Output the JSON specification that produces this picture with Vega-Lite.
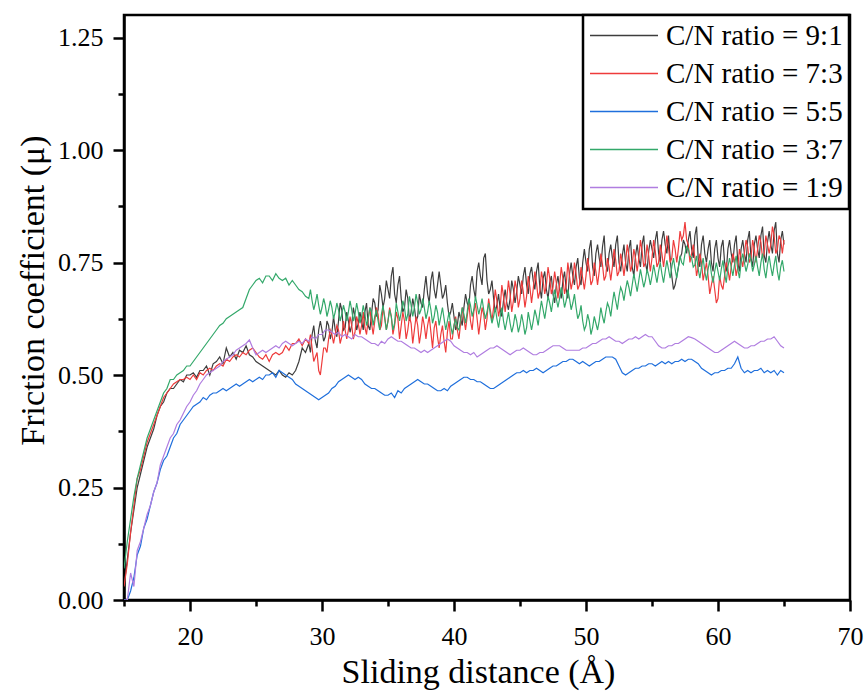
{
"$schema":"https://vega.github.io/schema/vega-lite/v6.json",
"width":726,"height":585,
"autosize":{"type":"none"},
"padding":{"left":124,"top":15,"right":15,"bottom":97},
"background":"white",
"config":{"view":{"stroke":"black","strokeWidth":2.5},"font":"Liberation Serif","axis":{"labelFont":"Liberation Serif","titleFont":"Liberation Serif"},"legend":{"strokeWidth":2.5,"labelFont":"Liberation Serif"}},
"data":{"values":[
{"x":15,"9:1":0.03,"7:3":0.03,"5:5":0,"3:7":0.07,"1:9":0},
{"x":15.25,"9:1":0.09,"7:3":0.08,"5:5":0,"3:7":0.13,"1:9":0},
{"x":15.5,"9:1":0.15,"7:3":0.15,"5:5":0.02,"3:7":0.18,"1:9":0.06},
{"x":15.75,"9:1":0.2,"7:3":0.21,"5:5":0.05,"3:7":0.23,"1:9":0.03},
{"x":16,"9:1":0.25,"7:3":0.27,"5:5":0.1,"3:7":0.27,"1:9":0.11},
{"x":16.25,"9:1":0.28,"7:3":0.29,"5:5":0.12,"3:7":0.3,"1:9":0.13},
{"x":16.5,"9:1":0.31,"7:3":0.32,"5:5":0.16,"3:7":0.33,"1:9":0.16},
{"x":16.75,"9:1":0.34,"7:3":0.35,"5:5":0.18,"3:7":0.36,"1:9":0.19},
{"x":17,"9:1":0.36,"7:3":0.37,"5:5":0.21,"3:7":0.38,"1:9":0.21},
{"x":17.25,"9:1":0.38,"7:3":0.39,"5:5":0.24,"3:7":0.4,"1:9":0.24},
{"x":17.5,"9:1":0.41,"7:3":0.41,"5:5":0.26,"3:7":0.42,"1:9":0.26},
{"x":17.75,"9:1":0.43,"7:3":0.43,"5:5":0.29,"3:7":0.44,"1:9":0.3},
{"x":18,"9:1":0.44,"7:3":0.45,"5:5":0.31,"3:7":0.46,"1:9":0.32},
{"x":18.25,"9:1":0.46,"7:3":0.46,"5:5":0.32,"3:7":0.47,"1:9":0.34},
{"x":18.5,"9:1":0.47,"7:3":0.47,"5:5":0.34,"3:7":0.49,"1:9":0.36},
{"x":18.75,"9:1":0.47,"7:3":0.48,"5:5":0.36,"3:7":0.49,"1:9":0.37},
{"x":19,"9:1":0.48,"7:3":0.485,"5:5":0.37,"3:7":0.5,"1:9":0.39},
{"x":19.25,"9:1":0.49,"7:3":0.49,"5:5":0.39,"3:7":0.505,"1:9":0.4},
{"x":19.5,"9:1":0.485,"7:3":0.49,"5:5":0.4,"3:7":0.51,"1:9":0.415},
{"x":19.75,"9:1":0.5,"7:3":0.495,"5:5":0.41,"3:7":0.52,"1:9":0.43},
{"x":20,"9:1":0.5,"7:3":0.49,"5:5":0.42,"3:7":0.52,"1:9":0.44},
{"x":20.25,"9:1":0.505,"7:3":0.5,"5:5":0.43,"3:7":0.53,"1:9":0.455},
{"x":20.5,"9:1":0.495,"7:3":0.49,"5:5":0.435,"3:7":0.54,"1:9":0.465},
{"x":20.75,"9:1":0.51,"7:3":0.505,"5:5":0.44,"3:7":0.55,"1:9":0.48},
{"x":21,"9:1":0.51,"7:3":0.5,"5:5":0.45,"3:7":0.56,"1:9":0.49},
{"x":21.25,"9:1":0.52,"7:3":0.51,"5:5":0.445,"3:7":0.57,"1:9":0.5},
{"x":21.5,"9:1":0.5,"7:3":0.515,"5:5":0.455,"3:7":0.58,"1:9":0.505},
{"x":21.75,"9:1":0.525,"7:3":0.51,"5:5":0.46,"3:7":0.59,"1:9":0.51},
{"x":22,"9:1":0.53,"7:3":0.52,"5:5":0.46,"3:7":0.6,"1:9":0.515},
{"x":22.25,"9:1":0.54,"7:3":0.525,"5:5":0.465,"3:7":0.61,"1:9":0.52},
{"x":22.5,"9:1":0.525,"7:3":0.52,"5:5":0.47,"3:7":0.615,"1:9":0.53},
{"x":22.75,"9:1":0.56,"7:3":0.535,"5:5":0.465,"3:7":0.625,"1:9":0.535},
{"x":23,"9:1":0.54,"7:3":0.53,"5:5":0.47,"3:7":0.63,"1:9":0.54},
{"x":23.25,"9:1":0.55,"7:3":0.54,"5:5":0.475,"3:7":0.635,"1:9":0.545},
{"x":23.5,"9:1":0.535,"7:3":0.545,"5:5":0.48,"3:7":0.64,"1:9":0.555},
{"x":23.75,"9:1":0.555,"7:3":0.54,"5:5":0.475,"3:7":0.645,"1:9":0.56},
{"x":24,"9:1":0.55,"7:3":0.55,"5:5":0.48,"3:7":0.65,"1:9":0.565},
{"x":24.25,"9:1":0.565,"7:3":0.545,"5:5":0.485,"3:7":0.67,"1:9":0.57},
{"x":24.5,"9:1":0.545,"7:3":0.555,"5:5":0.49,"3:7":0.69,"1:9":0.578},
{"x":24.75,"9:1":0.54,"7:3":0.56,"5:5":0.485,"3:7":0.7,"1:9":0.56},
{"x":25,"9:1":0.53,"7:3":0.55,"5:5":0.49,"3:7":0.71,"1:9":0.545},
{"x":25.25,"9:1":0.525,"7:3":0.54,"5:5":0.495,"3:7":0.715,"1:9":0.55},
{"x":25.5,"9:1":0.52,"7:3":0.535,"5:5":0.49,"3:7":0.705,"1:9":0.555},
{"x":25.75,"9:1":0.515,"7:3":0.545,"5:5":0.5,"3:7":0.72,"1:9":0.55},
{"x":26,"9:1":0.51,"7:3":0.53,"5:5":0.5,"3:7":0.72,"1:9":0.555},
{"x":26.25,"9:1":0.505,"7:3":0.545,"5:5":0.505,"3:7":0.71,"1:9":0.56},
{"x":26.5,"9:1":0.5,"7:3":0.55,"5:5":0.495,"3:7":0.725,"1:9":0.565},
{"x":26.75,"9:1":0.51,"7:3":0.545,"5:5":0.51,"3:7":0.715,"1:9":0.56},
{"x":27,"9:1":0.5,"7:3":0.55,"5:5":0.505,"3:7":0.71,"1:9":0.57},
{"x":27.25,"9:1":0.495,"7:3":0.565,"5:5":0.5,"3:7":0.715,"1:9":0.575},
{"x":27.5,"9:1":0.505,"7:3":0.555,"5:5":0.495,"3:7":0.7,"1:9":0.57},
{"x":27.75,"9:1":0.5,"7:3":0.57,"5:5":0.49,"3:7":0.71,"1:9":0.565},
{"x":28,"9:1":0.51,"7:3":0.57,"5:5":0.48,"3:7":0.7,"1:9":0.57},
{"x":28.25,"9:1":0.53,"7:3":0.58,"5:5":0.475,"3:7":0.69,"1:9":0.575},
{"x":28.5,"9:1":0.56,"7:3":0.565,"5:5":0.47,"3:7":0.685,"1:9":0.57},
{"x":28.75,"9:1":0.55,"7:3":0.58,"5:5":0.465,"3:7":0.675,"1:9":0.58},
{"x":29,"9:1":0.57,"7:3":0.57,"5:5":0.46,"3:7":0.67,"1:9":0.575},
{"x":29.25,"9:1":0.59,"7:3":0.56,"5:5":0.455,"3:7":0.665,"1:9":0.585},
{"x":29.5,"9:1":0.575,"7:3":0.54,"5:5":0.45,"3:7":0.66,"1:9":0.58},
{"x":29.75,"9:1":0.6,"7:3":0.51,"5:5":0.445,"3:7":0.655,"1:9":0.59},
{"x":30,"9:1":0.6,"7:3":0.53,"5:5":0.45,"3:7":0.65,"1:9":0.59},
{"x":30.25,"9:1":0.585,"7:3":0.56,"5:5":0.455,"3:7":0.655,"1:9":0.6},
{"x":30.5,"9:1":0.61,"7:3":0.58,"5:5":0.46,"3:7":0.645,"1:9":0.6},
{"x":30.75,"9:1":0.595,"7:3":0.59,"5:5":0.47,"3:7":0.65,"1:9":0.595},
{"x":31,"9:1":0.6,"7:3":0.59,"5:5":0.475,"3:7":0.64,"1:9":0.59},
{"x":31.25,"9:1":0.62,"7:3":0.6,"5:5":0.485,"3:7":0.645,"1:9":0.595},
{"x":31.5,"9:1":0.645,"7:3":0.585,"5:5":0.49,"3:7":0.635,"1:9":0.585},
{"x":31.75,"9:1":0.605,"7:3":0.6,"5:5":0.495,"3:7":0.64,"1:9":0.59},
{"x":32,"9:1":0.62,"7:3":0.6,"5:5":0.5,"3:7":0.64,"1:9":0.585},
{"x":32.25,"9:1":0.61,"7:3":0.61,"5:5":0.495,"3:7":0.645,"1:9":0.58},
{"x":32.5,"9:1":0.63,"7:3":0.595,"5:5":0.49,"3:7":0.635,"1:9":0.59},
{"x":32.75,"9:1":0.615,"7:3":0.615,"5:5":0.495,"3:7":0.64,"1:9":0.585},
{"x":33,"9:1":0.62,"7:3":0.61,"5:5":0.49,"3:7":0.63,"1:9":0.585},
{"x":33.25,"9:1":0.64,"7:3":0.605,"5:5":0.48,"3:7":0.635,"1:9":0.58},
{"x":33.5,"9:1":0.61,"7:3":0.625,"5:5":0.475,"3:7":0.625,"1:9":0.575},
{"x":33.75,"9:1":0.635,"7:3":0.615,"5:5":0.47,"3:7":0.64,"1:9":0.57},
{"x":34,"9:1":0.66,"7:3":0.62,"5:5":0.47,"3:7":0.63,"1:9":0.57},
{"x":34.25,"9:1":0.645,"7:3":0.635,"5:5":0.465,"3:7":0.62,"1:9":0.565},
{"x":34.5,"9:1":0.68,"7:3":0.61,"5:5":0.46,"3:7":0.635,"1:9":0.575},
{"x":34.75,"9:1":0.67,"7:3":0.63,"5:5":0.455,"3:7":0.625,"1:9":0.57},
{"x":35,"9:1":0.69,"7:3":0.62,"5:5":0.455,"3:7":0.62,"1:9":0.58},
{"x":35.25,"9:1":0.72,"7:3":0.63,"5:5":0.46,"3:7":0.63,"1:9":0.585},
{"x":35.5,"9:1":0.68,"7:3":0.61,"5:5":0.45,"3:7":0.615,"1:9":0.58},
{"x":35.75,"9:1":0.7,"7:3":0.625,"5:5":0.465,"3:7":0.64,"1:9":0.575},
{"x":36,"9:1":0.67,"7:3":0.61,"5:5":0.46,"3:7":0.64,"1:9":0.575},
{"x":36.25,"9:1":0.65,"7:3":0.62,"5:5":0.47,"3:7":0.65,"1:9":0.57},
{"x":36.5,"9:1":0.67,"7:3":0.6,"5:5":0.475,"3:7":0.635,"1:9":0.565},
{"x":36.75,"9:1":0.64,"7:3":0.615,"5:5":0.48,"3:7":0.655,"1:9":0.56},
{"x":37,"9:1":0.65,"7:3":0.6,"5:5":0.485,"3:7":0.65,"1:9":0.56},
{"x":37.25,"9:1":0.63,"7:3":0.61,"5:5":0.49,"3:7":0.66,"1:9":0.555},
{"x":37.5,"9:1":0.66,"7:3":0.595,"5:5":0.485,"3:7":0.645,"1:9":0.55},
{"x":37.75,"9:1":0.69,"7:3":0.61,"5:5":0.48,"3:7":0.65,"1:9":0.555},
{"x":38,"9:1":0.68,"7:3":0.61,"5:5":0.48,"3:7":0.64,"1:9":0.55},
{"x":38.25,"9:1":0.71,"7:3":0.595,"5:5":0.475,"3:7":0.645,"1:9":0.555},
{"x":38.5,"9:1":0.69,"7:3":0.605,"5:5":0.47,"3:7":0.63,"1:9":0.56},
{"x":38.75,"9:1":0.7,"7:3":0.585,"5:5":0.465,"3:7":0.64,"1:9":0.565},
{"x":39,"9:1":0.7,"7:3":0.59,"5:5":0.465,"3:7":0.63,"1:9":0.57},
{"x":39.25,"9:1":0.68,"7:3":0.575,"5:5":0.47,"3:7":0.625,"1:9":0.575},
{"x":39.5,"9:1":0.66,"7:3":0.595,"5:5":0.465,"3:7":0.62,"1:9":0.58},
{"x":39.75,"9:1":0.64,"7:3":0.58,"5:5":0.475,"3:7":0.61,"1:9":0.575},
{"x":40,"9:1":0.63,"7:3":0.61,"5:5":0.48,"3:7":0.61,"1:9":0.565},
{"x":40.25,"9:1":0.61,"7:3":0.6,"5:5":0.485,"3:7":0.605,"1:9":0.56},
{"x":40.5,"9:1":0.625,"7:3":0.615,"5:5":0.49,"3:7":0.625,"1:9":0.555},
{"x":40.75,"9:1":0.65,"7:3":0.625,"5:5":0.495,"3:7":0.635,"1:9":0.55},
{"x":41,"9:1":0.66,"7:3":0.63,"5:5":0.495,"3:7":0.64,"1:9":0.55},
{"x":41.25,"9:1":0.7,"7:3":0.62,"5:5":0.49,"3:7":0.655,"1:9":0.545},
{"x":41.5,"9:1":0.69,"7:3":0.64,"5:5":0.49,"3:7":0.645,"1:9":0.55},
{"x":41.75,"9:1":0.73,"7:3":0.625,"5:5":0.485,"3:7":0.655,"1:9":0.54},
{"x":42,"9:1":0.72,"7:3":0.62,"5:5":0.485,"3:7":0.65,"1:9":0.545},
{"x":42.25,"9:1":0.76,"7:3":0.635,"5:5":0.48,"3:7":0.645,"1:9":0.55},
{"x":42.5,"9:1":0.71,"7:3":0.625,"5:5":0.475,"3:7":0.64,"1:9":0.555},
{"x":42.75,"9:1":0.69,"7:3":0.645,"5:5":0.47,"3:7":0.635,"1:9":0.56},
{"x":43,"9:1":0.67,"7:3":0.65,"5:5":0.47,"3:7":0.63,"1:9":0.56},
{"x":43.25,"9:1":0.655,"7:3":0.665,"5:5":0.475,"3:7":0.625,"1:9":0.565},
{"x":43.5,"9:1":0.645,"7:3":0.65,"5:5":0.48,"3:7":0.63,"1:9":0.56},
{"x":43.75,"9:1":0.665,"7:3":0.675,"5:5":0.485,"3:7":0.62,"1:9":0.555},
{"x":44,"9:1":0.66,"7:3":0.67,"5:5":0.49,"3:7":0.62,"1:9":0.55},
{"x":44.25,"9:1":0.67,"7:3":0.68,"5:5":0.495,"3:7":0.615,"1:9":0.545},
{"x":44.5,"9:1":0.69,"7:3":0.665,"5:5":0.5,"3:7":0.61,"1:9":0.55},
{"x":44.75,"9:1":0.685,"7:3":0.69,"5:5":0.505,"3:7":0.62,"1:9":0.555},
{"x":45,"9:1":0.7,"7:3":0.67,"5:5":0.505,"3:7":0.61,"1:9":0.555},
{"x":45.25,"9:1":0.72,"7:3":0.685,"5:5":0.51,"3:7":0.615,"1:9":0.56},
{"x":45.5,"9:1":0.7,"7:3":0.675,"5:5":0.505,"3:7":0.605,"1:9":0.555},
{"x":45.75,"9:1":0.725,"7:3":0.695,"5:5":0.51,"3:7":0.62,"1:9":0.55},
{"x":46,"9:1":0.71,"7:3":0.69,"5:5":0.51,"3:7":0.62,"1:9":0.545},
{"x":46.25,"9:1":0.73,"7:3":0.705,"5:5":0.515,"3:7":0.63,"1:9":0.545},
{"x":46.5,"9:1":0.695,"7:3":0.685,"5:5":0.51,"3:7":0.64,"1:9":0.55},
{"x":46.75,"9:1":0.715,"7:3":0.71,"5:5":0.505,"3:7":0.645,"1:9":0.55},
{"x":47,"9:1":0.69,"7:3":0.7,"5:5":0.51,"3:7":0.65,"1:9":0.555},
{"x":47.25,"9:1":0.705,"7:3":0.715,"5:5":0.515,"3:7":0.66,"1:9":0.56},
{"x":47.5,"9:1":0.68,"7:3":0.695,"5:5":0.52,"3:7":0.665,"1:9":0.565},
{"x":47.75,"9:1":0.7,"7:3":0.705,"5:5":0.52,"3:7":0.67,"1:9":0.565},
{"x":48,"9:1":0.69,"7:3":0.7,"5:5":0.525,"3:7":0.67,"1:9":0.565},
{"x":48.25,"9:1":0.71,"7:3":0.715,"5:5":0.53,"3:7":0.675,"1:9":0.56},
{"x":48.5,"9:1":0.69,"7:3":0.7,"5:5":0.53,"3:7":0.665,"1:9":0.555},
{"x":48.75,"9:1":0.725,"7:3":0.72,"5:5":0.535,"3:7":0.67,"1:9":0.555},
{"x":49,"9:1":0.72,"7:3":0.71,"5:5":0.535,"3:7":0.66,"1:9":0.555},
{"x":49.25,"9:1":0.74,"7:3":0.725,"5:5":0.53,"3:7":0.65,"1:9":0.555},
{"x":49.5,"9:1":0.715,"7:3":0.7,"5:5":0.525,"3:7":0.635,"1:9":0.555},
{"x":49.75,"9:1":0.75,"7:3":0.715,"5:5":0.53,"3:7":0.62,"1:9":0.56},
{"x":50,"9:1":0.75,"7:3":0.72,"5:5":0.525,"3:7":0.61,"1:9":0.56},
{"x":50.25,"9:1":0.78,"7:3":0.735,"5:5":0.52,"3:7":0.62,"1:9":0.565},
{"x":50.5,"9:1":0.74,"7:3":0.71,"5:5":0.525,"3:7":0.605,"1:9":0.57},
{"x":50.75,"9:1":0.77,"7:3":0.73,"5:5":0.53,"3:7":0.615,"1:9":0.57},
{"x":51,"9:1":0.76,"7:3":0.73,"5:5":0.53,"3:7":0.62,"1:9":0.575},
{"x":51.25,"9:1":0.785,"7:3":0.745,"5:5":0.535,"3:7":0.63,"1:9":0.58},
{"x":51.5,"9:1":0.745,"7:3":0.72,"5:5":0.54,"3:7":0.64,"1:9":0.58},
{"x":51.75,"9:1":0.77,"7:3":0.74,"5:5":0.54,"3:7":0.65,"1:9":0.585},
{"x":52,"9:1":0.76,"7:3":0.74,"5:5":0.54,"3:7":0.66,"1:9":0.58},
{"x":52.25,"9:1":0.79,"7:3":0.755,"5:5":0.535,"3:7":0.665,"1:9":0.575},
{"x":52.5,"9:1":0.75,"7:3":0.73,"5:5":0.52,"3:7":0.675,"1:9":0.575},
{"x":52.75,"9:1":0.765,"7:3":0.75,"5:5":0.505,"3:7":0.685,"1:9":0.57},
{"x":53,"9:1":0.75,"7:3":0.75,"5:5":0.5,"3:7":0.69,"1:9":0.575},
{"x":53.25,"9:1":0.78,"7:3":0.765,"5:5":0.505,"3:7":0.695,"1:9":0.58},
{"x":53.5,"9:1":0.74,"7:3":0.745,"5:5":0.51,"3:7":0.7,"1:9":0.58},
{"x":53.75,"9:1":0.765,"7:3":0.76,"5:5":0.515,"3:7":0.705,"1:9":0.585},
{"x":54,"9:1":0.76,"7:3":0.76,"5:5":0.515,"3:7":0.71,"1:9":0.58},
{"x":54.25,"9:1":0.79,"7:3":0.775,"5:5":0.52,"3:7":0.715,"1:9":0.585},
{"x":54.5,"9:1":0.75,"7:3":0.75,"5:5":0.52,"3:7":0.71,"1:9":0.59},
{"x":54.75,"9:1":0.775,"7:3":0.765,"5:5":0.525,"3:7":0.72,"1:9":0.585},
{"x":55,"9:1":0.78,"7:3":0.76,"5:5":0.525,"3:7":0.72,"1:9":0.585},
{"x":55.25,"9:1":0.8,"7:3":0.775,"5:5":0.52,"3:7":0.725,"1:9":0.575},
{"x":55.5,"9:1":0.77,"7:3":0.75,"5:5":0.525,"3:7":0.73,"1:9":0.565},
{"x":55.75,"9:1":0.8,"7:3":0.77,"5:5":0.53,"3:7":0.725,"1:9":0.56},
{"x":56,"9:1":0.79,"7:3":0.77,"5:5":0.525,"3:7":0.73,"1:9":0.56},
{"x":56.25,"9:1":0.81,"7:3":0.785,"5:5":0.53,"3:7":0.735,"1:9":0.565},
{"x":56.5,"9:1":0.72,"7:3":0.76,"5:5":0.525,"3:7":0.74,"1:9":0.565},
{"x":56.75,"9:1":0.7,"7:3":0.78,"5:5":0.53,"3:7":0.735,"1:9":0.57},
{"x":57,"9:1":0.74,"7:3":0.78,"5:5":0.53,"3:7":0.74,"1:9":0.57},
{"x":57.25,"9:1":0.77,"7:3":0.8,"5:5":0.535,"3:7":0.75,"1:9":0.575},
{"x":57.5,"9:1":0.79,"7:3":0.84,"5:5":0.53,"3:7":0.77,"1:9":0.58},
{"x":57.75,"9:1":0.8,"7:3":0.79,"5:5":0.535,"3:7":0.78,"1:9":0.585},
{"x":58,"9:1":0.78,"7:3":0.77,"5:5":0.535,"3:7":0.76,"1:9":0.583},
{"x":58.25,"9:1":0.81,"7:3":0.76,"5:5":0.53,"3:7":0.745,"1:9":0.58},
{"x":58.5,"9:1":0.76,"7:3":0.74,"5:5":0.525,"3:7":0.735,"1:9":0.575},
{"x":58.75,"9:1":0.79,"7:3":0.75,"5:5":0.515,"3:7":0.74,"1:9":0.57},
{"x":59,"9:1":0.77,"7:3":0.73,"5:5":0.51,"3:7":0.73,"1:9":0.565},
{"x":59.25,"9:1":0.78,"7:3":0.72,"5:5":0.505,"3:7":0.735,"1:9":0.56},
{"x":59.5,"9:1":0.75,"7:3":0.7,"5:5":0.5,"3:7":0.725,"1:9":0.555},
{"x":59.75,"9:1":0.78,"7:3":0.69,"5:5":0.505,"3:7":0.73,"1:9":0.55},
{"x":60,"9:1":0.76,"7:3":0.67,"5:5":0.505,"3:7":0.73,"1:9":0.55},
{"x":60.25,"9:1":0.785,"7:3":0.7,"5:5":0.51,"3:7":0.735,"1:9":0.555},
{"x":60.5,"9:1":0.75,"7:3":0.72,"5:5":0.51,"3:7":0.725,"1:9":0.56},
{"x":60.75,"9:1":0.78,"7:3":0.735,"5:5":0.515,"3:7":0.74,"1:9":0.565},
{"x":61,"9:1":0.77,"7:3":0.74,"5:5":0.515,"3:7":0.74,"1:9":0.57},
{"x":61.25,"9:1":0.79,"7:3":0.755,"5:5":0.525,"3:7":0.745,"1:9":0.575},
{"x":61.5,"9:1":0.75,"7:3":0.74,"5:5":0.54,"3:7":0.735,"1:9":0.57},
{"x":61.75,"9:1":0.78,"7:3":0.76,"5:5":0.515,"3:7":0.75,"1:9":0.565},
{"x":62,"9:1":0.77,"7:3":0.77,"5:5":0.505,"3:7":0.75,"1:9":0.56},
{"x":62.25,"9:1":0.8,"7:3":0.785,"5:5":0.51,"3:7":0.745,"1:9":0.56},
{"x":62.5,"9:1":0.76,"7:3":0.76,"5:5":0.505,"3:7":0.755,"1:9":0.565},
{"x":62.75,"9:1":0.79,"7:3":0.78,"5:5":0.51,"3:7":0.745,"1:9":0.565},
{"x":63,"9:1":0.78,"7:3":0.78,"5:5":0.51,"3:7":0.74,"1:9":0.57},
{"x":63.25,"9:1":0.81,"7:3":0.795,"5:5":0.515,"3:7":0.75,"1:9":0.575},
{"x":63.5,"9:1":0.765,"7:3":0.77,"5:5":0.505,"3:7":0.735,"1:9":0.575},
{"x":63.75,"9:1":0.795,"7:3":0.79,"5:5":0.51,"3:7":0.745,"1:9":0.58},
{"x":64,"9:1":0.79,"7:3":0.79,"5:5":0.505,"3:7":0.74,"1:9":0.58},
{"x":64.25,"9:1":0.82,"7:3":0.81,"5:5":0.51,"3:7":0.745,"1:9":0.585},
{"x":64.5,"9:1":0.77,"7:3":0.78,"5:5":0.5,"3:7":0.73,"1:9":0.575},
{"x":64.75,"9:1":0.8,"7:3":0.8,"5:5":0.51,"3:7":0.74,"1:9":0.565},
{"x":65,"9:1":0.79,"7:3":0.8,"5:5":0.505,"3:7":0.73,"1:9":0.56},
{"x":29.125,"9:1":0.55,"7:3":0.59,"3:7":0.69},
{"x":29.375,"9:1":0.61,"7:3":0.53,"3:7":0.645},
{"x":29.625,"9:1":0.56,"7:3":0.55,"3:7":0.68},
{"x":29.875,"9:1":0.62,"7:3":0.5,"3:7":0.635},
{"x":30.125,"9:1":0.575,"7:3":0.56,"3:7":0.67},
{"x":30.375,"9:1":0.62,"7:3":0.55,"3:7":0.63},
{"x":30.625,"9:1":0.58,"7:3":0.6,"3:7":0.665},
{"x":30.875,"9:1":0.63,"7:3":0.57,"3:7":0.625},
{"x":31.125,"9:1":0.585,"7:3":0.61,"3:7":0.66},
{"x":31.375,"9:1":0.66,"7:3":0.57,"3:7":0.62},
{"x":31.625,"9:1":0.6,"7:3":0.62,"3:7":0.655},
{"x":31.875,"9:1":0.64,"7:3":0.58,"3:7":0.62},
{"x":32.125,"9:1":0.595,"7:3":0.63,"3:7":0.665},
{"x":32.375,"9:1":0.65,"7:3":0.58,"3:7":0.62},
{"x":32.625,"9:1":0.6,"7:3":0.63,"3:7":0.66},
{"x":32.875,"9:1":0.64,"7:3":0.59,"3:7":0.615},
{"x":33.125,"9:1":0.6,"7:3":0.64,"3:7":0.655},
{"x":33.375,"9:1":0.66,"7:3":0.59,"3:7":0.61},
{"x":33.625,"9:1":0.6,"7:3":0.65,"3:7":0.65},
{"x":33.875,"9:1":0.67,"7:3":0.59,"3:7":0.61},
{"x":34.125,"9:1":0.63,"7:3":0.65,"3:7":0.645},
{"x":34.375,"9:1":0.7,"7:3":0.6,"3:7":0.6},
{"x":34.625,"9:1":0.65,"7:3":0.65,"3:7":0.655},
{"x":34.875,"9:1":0.71,"7:3":0.6,"3:7":0.6},
{"x":35.125,"9:1":0.67,"7:3":0.65,"3:7":0.645},
{"x":35.375,"9:1":0.74,"7:3":0.59,"3:7":0.6},
{"x":35.625,"9:1":0.66,"7:3":0.64,"3:7":0.66},
{"x":35.875,"9:1":0.72,"7:3":0.58,"3:7":0.62},
{"x":36.125,"9:1":0.64,"7:3":0.64,"3:7":0.665},
{"x":36.375,"9:1":0.69,"7:3":0.58,"3:7":0.62},
{"x":36.625,"9:1":0.62,"7:3":0.63,"3:7":0.675},
{"x":36.875,"9:1":0.67,"7:3":0.57,"3:7":0.63},
{"x":37.125,"9:1":0.62,"7:3":0.63,"3:7":0.68},
{"x":37.375,"9:1":0.68,"7:3":0.57,"3:7":0.635},
{"x":37.625,"9:1":0.65,"7:3":0.63,"3:7":0.67},
{"x":37.875,"9:1":0.72,"7:3":0.58,"3:7":0.625},
{"x":38.125,"9:1":0.66,"7:3":0.63,"3:7":0.665},
{"x":38.375,"9:1":0.73,"7:3":0.56,"3:7":0.615},
{"x":38.625,"9:1":0.67,"7:3":0.62,"3:7":0.655},
{"x":38.875,"9:1":0.73,"7:3":0.56,"3:7":0.61},
{"x":39.125,"9:1":0.67,"7:3":0.61,"3:7":0.65},
{"x":39.375,"9:1":0.7,"7:3":0.55,"3:7":0.6},
{"x":39.625,"9:1":0.63,"7:3":0.62,"3:7":0.64},
{"x":39.875,"9:1":0.66,"7:3":0.58,"3:7":0.59},
{"x":40.125,"9:1":0.6,"7:3":0.63,"3:7":0.625},
{"x":40.375,"9:1":0.64,"7:3":0.58,"3:7":0.6},
{"x":40.625,"9:1":0.61,"7:3":0.65,"3:7":0.65},
{"x":40.875,"9:1":0.68,"7:3":0.6,"3:7":0.615},
{"x":41.125,"9:1":0.65,"7:3":0.66,"3:7":0.67},
{"x":41.375,"9:1":0.72,"7:3":0.6,"3:7":0.63},
{"x":41.625,"9:1":0.67,"7:3":0.66,"3:7":0.675},
{"x":41.875,"9:1":0.75,"7:3":0.59,"3:7":0.635},
{"x":42.125,"9:1":0.7,"7:3":0.65,"3:7":0.67},
{"x":42.375,"9:1":0.77,"7:3":0.6,"3:7":0.625},
{"x":42.625,"9:1":0.68,"7:3":0.67,"3:7":0.66},
{"x":42.875,"9:1":0.71,"7:3":0.62,"3:7":0.615},
{"x":43.125,"9:1":0.64,"7:3":0.69,"3:7":0.65},
{"x":43.375,"9:1":0.68,"7:3":0.63,"3:7":0.605},
{"x":43.625,"9:1":0.63,"7:3":0.7,"3:7":0.65},
{"x":43.875,"9:1":0.69,"7:3":0.64,"3:7":0.6},
{"x":44.125,"9:1":0.645,"7:3":0.71,"3:7":0.64},
{"x":44.375,"9:1":0.71,"7:3":0.64,"3:7":0.595},
{"x":44.625,"9:1":0.66,"7:3":0.71,"3:7":0.635},
{"x":44.875,"9:1":0.72,"7:3":0.65,"3:7":0.595},
{"x":45.125,"9:1":0.68,"7:3":0.71,"3:7":0.635},
{"x":45.375,"9:1":0.74,"7:3":0.65,"3:7":0.59},
{"x":45.625,"9:1":0.68,"7:3":0.72,"3:7":0.64},
{"x":45.875,"9:1":0.74,"7:3":0.66,"3:7":0.6},
{"x":46.125,"9:1":0.69,"7:3":0.73,"3:7":0.645},
{"x":46.375,"9:1":0.75,"7:3":0.67,"3:7":0.61},
{"x":46.625,"9:1":0.67,"7:3":0.73,"3:7":0.665},
{"x":46.875,"9:1":0.73,"7:3":0.68,"3:7":0.625},
{"x":47.125,"9:1":0.67,"7:3":0.74,"3:7":0.675},
{"x":47.375,"9:1":0.72,"7:3":0.68,"3:7":0.64},
{"x":47.625,"9:1":0.66,"7:3":0.73,"3:7":0.69},
{"x":47.875,"9:1":0.72,"7:3":0.67,"3:7":0.65},
{"x":48.125,"9:1":0.67,"7:3":0.74,"3:7":0.695},
{"x":48.375,"9:1":0.73,"7:3":0.68,"3:7":0.65},
{"x":48.625,"9:1":0.67,"7:3":0.75,"3:7":0.69},
{"x":48.875,"9:1":0.75,"7:3":0.69,"3:7":0.645},
{"x":49.125,"9:1":0.7,"7:3":0.75,"3:7":0.68},
{"x":49.375,"9:1":0.76,"7:3":0.69,"3:7":0.625},
{"x":49.625,"9:1":0.7,"7:3":0.74,"3:7":0.655},
{"x":49.875,"9:1":0.78,"7:3":0.69,"3:7":0.6},
{"x":50.125,"9:1":0.73,"7:3":0.76,"3:7":0.635},
{"x":50.375,"9:1":0.8,"7:3":0.7,"3:7":0.59},
{"x":50.625,"9:1":0.72,"7:3":0.75,"3:7":0.63},
{"x":50.875,"9:1":0.79,"7:3":0.7,"3:7":0.6},
{"x":51.125,"9:1":0.74,"7:3":0.77,"3:7":0.65},
{"x":51.375,"9:1":0.81,"7:3":0.71,"3:7":0.615},
{"x":51.625,"9:1":0.73,"7:3":0.76,"3:7":0.66},
{"x":51.875,"9:1":0.79,"7:3":0.71,"3:7":0.63},
{"x":52.125,"9:1":0.74,"7:3":0.78,"3:7":0.685},
{"x":52.375,"9:1":0.81,"7:3":0.72,"3:7":0.645},
{"x":52.625,"9:1":0.73,"7:3":0.77,"3:7":0.695},
{"x":52.875,"9:1":0.79,"7:3":0.72,"3:7":0.665},
{"x":53.125,"9:1":0.73,"7:3":0.79,"3:7":0.71},
{"x":53.375,"9:1":0.8,"7:3":0.73,"3:7":0.675},
{"x":53.625,"9:1":0.72,"7:3":0.78,"3:7":0.725},
{"x":53.875,"9:1":0.79,"7:3":0.73,"3:7":0.685},
{"x":54.125,"9:1":0.74,"7:3":0.8,"3:7":0.735},
{"x":54.375,"9:1":0.81,"7:3":0.74,"3:7":0.695},
{"x":54.625,"9:1":0.73,"7:3":0.79,"3:7":0.735},
{"x":54.875,"9:1":0.8,"7:3":0.73,"3:7":0.7},
{"x":55.125,"9:1":0.76,"7:3":0.8,"3:7":0.745},
{"x":55.375,"9:1":0.82,"7:3":0.74,"3:7":0.705},
{"x":55.625,"9:1":0.75,"7:3":0.79,"3:7":0.75},
{"x":55.875,"9:1":0.82,"7:3":0.74,"3:7":0.705},
{"x":56.125,"9:1":0.77,"7:3":0.81,"3:7":0.755},
{"x":56.375,"9:1":0.76,"7:3":0.75,"3:7":0.715},
{"x":56.625,"9:1":0.69,"7:3":0.8,"3:7":0.76},
{"x":56.875,"9:1":0.72,"7:3":0.75,"3:7":0.715},
{"x":57.125,"9:1":0.76,"7:3":0.82,"3:7":0.765},
{"x":57.375,"9:1":0.8,"7:3":0.81,"3:7":0.745},
{"x":57.625,"9:1":0.77,"7:3":0.8,"3:7":0.785},
{"x":57.875,"9:1":0.82,"7:3":0.75,"3:7":0.765},
{"x":58.125,"9:1":0.76,"7:3":0.79,"3:7":0.74},
{"x":58.375,"9:1":0.83,"7:3":0.72,"3:7":0.765},
{"x":58.625,"9:1":0.74,"7:3":0.77,"3:7":0.715},
{"x":58.875,"9:1":0.81,"7:3":0.71,"3:7":0.76},
{"x":59.125,"9:1":0.75,"7:3":0.75,"3:7":0.71},
{"x":59.375,"9:1":0.8,"7:3":0.68,"3:7":0.755},
{"x":59.625,"9:1":0.73,"7:3":0.72,"3:7":0.705},
{"x":59.875,"9:1":0.8,"7:3":0.66,"3:7":0.75},
{"x":60.125,"9:1":0.74,"7:3":0.72,"3:7":0.71},
{"x":60.375,"9:1":0.8,"7:3":0.69,"3:7":0.755},
{"x":60.625,"9:1":0.73,"7:3":0.75,"3:7":0.705},
{"x":60.875,"9:1":0.8,"7:3":0.71,"3:7":0.76},
{"x":61.125,"9:1":0.75,"7:3":0.77,"3:7":0.72},
{"x":61.375,"9:1":0.81,"7:3":0.72,"3:7":0.765},
{"x":61.625,"9:1":0.73,"7:3":0.78,"3:7":0.715},
{"x":61.875,"9:1":0.8,"7:3":0.74,"3:7":0.77},
{"x":62.125,"9:1":0.75,"7:3":0.8,"3:7":0.73},
{"x":62.375,"9:1":0.82,"7:3":0.75,"3:7":0.77},
{"x":62.625,"9:1":0.74,"7:3":0.8,"3:7":0.73},
{"x":62.875,"9:1":0.81,"7:3":0.75,"3:7":0.765},
{"x":63.125,"9:1":0.76,"7:3":0.81,"3:7":0.72},
{"x":63.375,"9:1":0.83,"7:3":0.76,"3:7":0.77},
{"x":63.625,"9:1":0.75,"7:3":0.81,"3:7":0.715},
{"x":63.875,"9:1":0.82,"7:3":0.77,"3:7":0.765},
{"x":64.125,"9:1":0.77,"7:3":0.83,"3:7":0.72},
{"x":64.375,"9:1":0.84,"7:3":0.77,"3:7":0.765},
{"x":64.625,"9:1":0.75,"7:3":0.81,"3:7":0.71},
{"x":64.875,"9:1":0.82,"7:3":0.77,"3:7":0.755}
]},
"transform":[{"fold":["9:1","7:3","5:5","3:7","1:9"],"as":["ratio","mu"]},{"filter":"datum.mu != null"}],
"mark":{"type":"line","strokeWidth":1.2,"clip":true},
"encoding":{
"x":{"field":"x","type":"quantitative","scale":{"domain":[15,70],"nice":false,"zero":false},
"axis":{"title":"Sliding distance (Å)","values":[15,20,25,30,35,40,45,50,55,60,65,70],
"labelExpr":"datum.value % 10 === 0 ? datum.label : ''",
"tickSize":{"condition":{"test":"datum.value % 10 === 0","value":11},"value":6},
"tickWidth":2.5,"tickColor":"black","domainColor":"black","domainWidth":2.5,"grid":false,
"labelFont":"Liberation Serif","labelFontSize":26,"labelColor":"black","labelPadding":12,"labelFlush":false,"labelOverlap":false,
"encode":{"labels":{"update":{"font":{"value":"Liberation Serif"}}}},
"titleFont":"Liberation Serif","titleFontSize":34,"titleFontWeight":"normal","titleColor":"black","titleX":354,"titleY":82,"titleBaseline":"alphabetic"}},
"y":{"field":"mu","type":"quantitative","scale":{"domain":[0,1.3],"nice":false},
"axis":{"title":"Friction coefficient (μ)","values":[0,0.125,0.25,0.375,0.5,0.625,0.75,0.875,1,1.125,1.25],"format":".2f",
"labelExpr":"datum.value % 0.25 === 0 ? datum.label : ''",
"tickSize":{"condition":{"test":"datum.value % 0.25 === 0","value":11},"value":6},
"tickWidth":2.5,"tickColor":"black","domainColor":"black","domainWidth":2.5,"grid":false,
"labelFont":"Liberation Serif","labelFontSize":26,"labelColor":"black","labelPadding":10,"labelFlush":false,"labelOverlap":false,
"encode":{"labels":{"update":{"font":{"value":"Liberation Serif"}}}},
"titleFont":"Liberation Serif","titleFontSize":34,"titleFontWeight":"normal","titleColor":"black","titleX":-81,"titleY":275,"titleBaseline":"alphabetic"}},
"color":{"field":"ratio","type":"nominal","scale":{"domain":["9:1","7:3","5:5","3:7","1:9"],"range":["#3d3d3d","#ee3b3b","#1f6fdc","#33a86a","#b07de0"]},
"legend":{"orient":"none","legendX":459,"legendY":0,"title":null,"labelExpr":"'C/N ratio = ' + datum.label",
"labelFont":"Liberation Serif","labelFontSize":29,"labelColor":"black","labelLimit":0,"symbolType":"stroke","symbolSize":4624,"symbolStrokeWidth":1.5,
"strokeColor":"black","fillColor":"white","padding":6,"rowPadding":8,"labelOffset":7,"clipHeight":29}}
}
}
